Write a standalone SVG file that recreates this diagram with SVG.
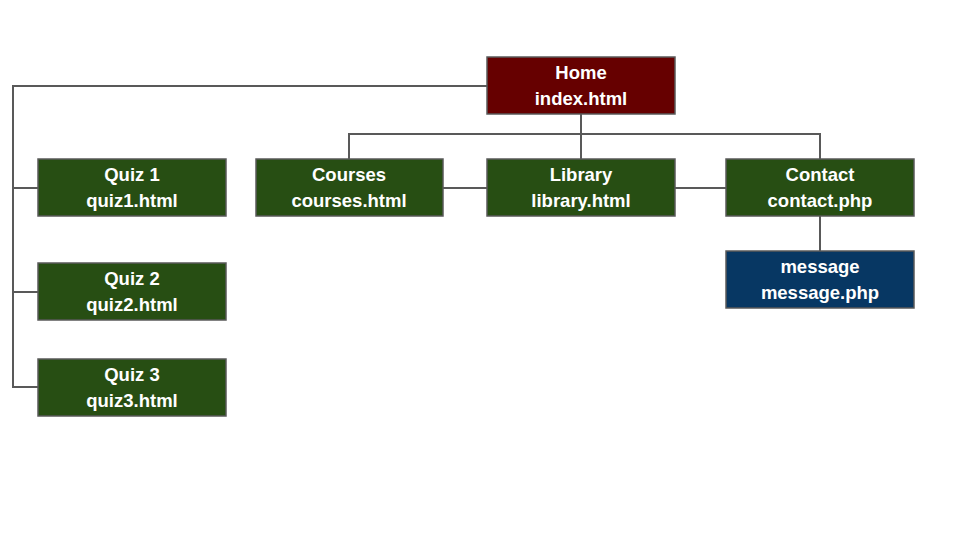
<svg xmlns="http://www.w3.org/2000/svg" width="960" height="540" viewBox="0 0 960 540">
<style>
.box{stroke:#595959;stroke-width:1.5}
.red{fill:#660000}
.green{fill:#274e13}
.blue{fill:#073763}
.t{font-family:"Liberation Sans",Arial,sans-serif;font-size:18.5px;font-weight:bold;fill:#ffffff;text-anchor:middle}
.c{stroke:#595959;stroke-width:2;fill:none}
</style>
<rect width="960" height="540" fill="#ffffff"/>
<g id="connectors">
<polyline class="c" points="487,86 13,86 13,387 38,387"/>
<line class="c" x1="13" y1="188" x2="38" y2="188"/>
<line class="c" x1="13" y1="292" x2="38" y2="292"/>
<line class="c" x1="581" y1="114" x2="581" y2="159"/>
<polyline class="c" points="349,159 349,134 820,134 820,159"/>
<line class="c" x1="443" y1="188" x2="487" y2="188"/>
<line class="c" x1="675" y1="188" x2="726" y2="188"/>
<line class="c" x1="820" y1="216" x2="820" y2="251"/>
</g>
<g id="home">
<rect class="box red" x="487" y="57" width="188" height="57"/>
<text class="t" x="581" y="78.5">Home</text>
<text class="t" x="581" y="104.5">index.html</text>
</g>
<g id="quiz1">
<rect class="box green" x="38" y="159" width="188" height="57"/>
<text class="t" x="132" y="180.5">Quiz 1</text>
<text class="t" x="132" y="206.5">quiz1.html</text>
</g>
<g id="quiz2">
<rect class="box green" x="38" y="263" width="188" height="57"/>
<text class="t" x="132" y="284.5">Quiz 2</text>
<text class="t" x="132" y="310.5">quiz2.html</text>
</g>
<g id="quiz3">
<rect class="box green" x="38" y="359" width="188" height="57"/>
<text class="t" x="132" y="380.5">Quiz 3</text>
<text class="t" x="132" y="406.5">quiz3.html</text>
</g>
<g id="courses">
<rect class="box green" x="256" y="159" width="187" height="57"/>
<text class="t" x="349" y="180.5">Courses</text>
<text class="t" x="349" y="206.5">courses.html</text>
</g>
<g id="library">
<rect class="box green" x="487" y="159" width="188" height="57"/>
<text class="t" x="581" y="180.5">Library</text>
<text class="t" x="581" y="206.5">library.html</text>
</g>
<g id="contact">
<rect class="box green" x="726" y="159" width="188" height="57"/>
<text class="t" x="820" y="180.5">Contact</text>
<text class="t" x="820" y="206.5">contact.php</text>
</g>
<g id="message">
<rect class="box blue" x="726" y="251" width="188" height="57"/>
<text class="t" x="820" y="272.5">message</text>
<text class="t" x="820" y="298.5">message.php</text>
</g>
</svg>
